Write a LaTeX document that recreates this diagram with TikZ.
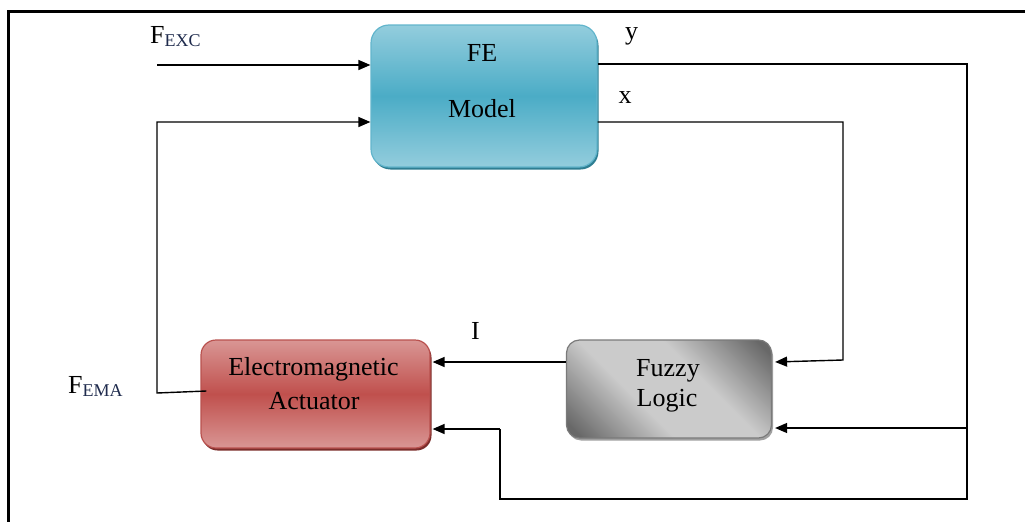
\documentclass[tikz,border=0pt]{standalone}
\usepackage{fontspec}
\setmainfont{Liberation Serif}
\usetikzlibrary{arrows.meta,shadows,calc}
\definecolor{feLight}{HTML}{93CDDD}
\definecolor{feMid}{HTML}{4BACC6}
\definecolor{feBorder}{HTML}{62B5CC}
\definecolor{feShadow}{HTML}{2E7E92}
\definecolor{acLight}{HTML}{D99694}
\definecolor{acMid}{HTML}{C0504D}
\definecolor{acBorder}{HTML}{B9514E}
\definecolor{acShadow}{HTML}{7B2C2A}
\definecolor{fzLight}{HTML}{CBCBCB}
\definecolor{fzDark}{HTML}{686868}
\definecolor{fzBorder}{HTML}{7A7A7A}
\definecolor{fzShadow}{HTML}{A0A0A0}
\definecolor{subcol}{HTML}{1F2B4D}
\pgfdeclarehorizontalshading{fuzzysh}{100bp}{color(0bp)=(fzDark); color(18bp)=(fzDark); color(40bp)=(fzLight); color(60bp)=(fzLight); color(82bp)=(fzDark); color(100bp)=(fzDark)}
\newcommand{\subtxt}[1]{\raisebox{-3pt}{\textcolor{subcol}{\fontsize{18}{18}\selectfont #1}}}
\begin{document}
\begin{tikzpicture}[x=1pt,y=-1pt,
  boxstyle/.style={rounded corners=#1, draw, line width=1.2pt, inner sep=0pt},
  txt/.style={font=\fontsize{26}{30}\selectfont, inner sep=0pt, anchor=base},
  conn/.style={line width=1.4pt, black},
  arr/.style={conn, -{Triangle[length=12pt,width=10pt]}},
  frame/.style={line width=3pt, black}
]
\useasboundingbox (0,0) rectangle (1025,522);
% frame
\draw[frame] (1025,11.5) -- (8.5,11.5) -- (8.5,522);

% boxes
\node[boxstyle=18, draw=feBorder, top color=feLight, bottom color=feLight, middle color=feMid,
  drop shadow={shadow xshift=1.5pt, shadow yshift=-2.5pt, fill=feShadow, opacity=1},
  minimum width=226pt, minimum height=142pt] (fe) at (484,96) {};
\node[boxstyle=15, draw=acBorder, top color=acLight, bottom color=acLight, middle color=acMid,
  drop shadow={shadow xshift=1.5pt, shadow yshift=-2.5pt, fill=acShadow, opacity=1},
  minimum width=229pt, minimum height=108pt] (act) at (315.5,394) {};
\node[boxstyle=13, draw=fzBorder, shading=fuzzysh, shading angle=45,
  drop shadow={shadow xshift=1.5pt, shadow yshift=-2.5pt, fill=fzShadow, opacity=1},
  minimum width=205pt, minimum height=98pt] (fz) at (669,389) {};

% box texts
\node[txt] (feA) at (482,61.7) {FE};
\node[txt] (feB) at (482,117.7) {Model};
\node[txt] (acA) at (313.5,375) {Electromagnetic};
\node[txt] (acB) at (314,409) {Actuator};
\node[txt] (fzA) at (668,376) {Fuzzy};
\node[txt] (fzB) at (667,406) {Logic};

% labels
\node[txt, anchor=base west] (lexc) at (150,43) {F\subtxt{EXC}};
\node[txt, anchor=base west] (lema) at (68,393) {F\subtxt{EMA}};
\node[txt] (ly) at (631.5,39) {y};
\node[txt] (lx) at (625,103) {x};
\node[txt] (lI) at (475.5,339) {I};

% coordinates
\coordinate (excS) at (157,65);
\coordinate (emaL) at (157,393);
\coordinate (yR) at (967,64);
\coordinate (yB) at (967,499);
\coordinate (yBL) at (500,499);
\coordinate (yFz) at (967,428);
\coordinate (xR) at (843,122);

% connectors
\draw[arr] (excS) -- (fe.west |- excS);
\draw[arr] ($(act.west)+(6,-3)$) -- (emaL) -- (157,122) -- (fe.west |- 0,122);
\draw[conn] (fe.east |- yR) -- (yR) -- (yB) -- (yBL) -- (500,429);
\draw[arr] (500,429) -- ($(act.east |- 0,429)+(2,0)$);
\draw[arr] (yFz) -- ($(fz.east |- yFz)+(3,0)$);
\draw[arr] (fe.east |- xR) -- (xR) -- (843,360) -- ($(fz.east |- 0,362)+(3,0)$);
\draw[arr] (fz.west |- 0,362) -- ($(act.east |- 0,362)+(2,0)$);
\end{tikzpicture}
\end{document}
